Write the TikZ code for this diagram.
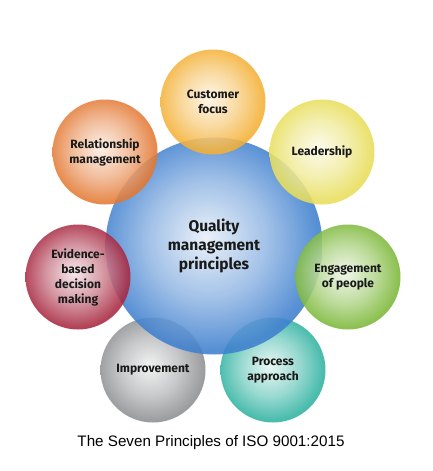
\documentclass[tikz,border=0pt]{standalone}
\usepackage{fontspec}
\setmainfont{Fira Sans}
\newfontfamily\capfont{Liberation Sans}

\makeatletter
\pgfdeclareradialshading[tikz@radial@inner,tikz@radial@outer]{glow}{\pgfpoint{-2bp}{2bp}}{color(0bp)=(tikz@radial@inner); color(14bp)=(tikz@radial@inner!50!tikz@radial@outer); color(25bp)=(tikz@radial@outer); color(50bp)=(tikz@radial@outer)}
\makeatother

\definecolor{qblue}{HTML}{3F80CF}
\definecolor{qcust}{HTML}{F4B034}
\definecolor{qlead}{HTML}{E8DE58}
\definecolor{qengage}{HTML}{7DB93A}
\definecolor{qproc}{HTML}{30B3A1}
\definecolor{qimpr}{HTML}{8E9093}
\definecolor{qevid}{HTML}{A82840}
\definecolor{qrel}{HTML}{E47933}

\tikzset{
  ball/.style 2 args={circle, minimum size=#1, inner sep=0pt, inner color=#2!12!white, outer color=#2, shading=glow, fill opacity=0.88, text opacity=1, align=center},
  principle/.style={ball={105pt}{#1}, font=\bfseries\fontsize{12}{15}\selectfont, text=black!90},
}

\begin{document}
\begin{tikzpicture}[x=1pt,y=-1pt]
  \useasboundingbox (0,0) rectangle (432,471);
  \fill[white] (0,0) rectangle (432,471);

  % lower circles lie under the centre
  \node[principle=qimpr] (impr) at (153,370) {Improvement};
  \node[principle=qproc] (proc) at (273,370) {Process\\approach};

  \node[ball={217pt}{qblue}, font=\bfseries\fontsize{15.5}{19}\selectfont, text=black!90] (qmp) at (214,246) {Quality\\management\\principles};

  % upper circles lie over it
  \node[principle=qevid] (evid) at (78,277) {Evidence-\\based\\decision\\making};
  \node[principle=qengage] (engage) at (348,277) {Engagement\\of people};
  \node[principle=qlead] (lead) at (322,152) {Leadership};
  \node[principle=qrel] (rel) at (105,152) {Relationship\\management};
  \node[principle=qcust] (cust) at (213,102) {Customer\\focus};

  \node[font=\capfont\fontsize{15.2}{17}\selectfont] (cap) at (211,443) {The Seven Principles of ISO 9001:2015};
\end{tikzpicture}
\end{document}
